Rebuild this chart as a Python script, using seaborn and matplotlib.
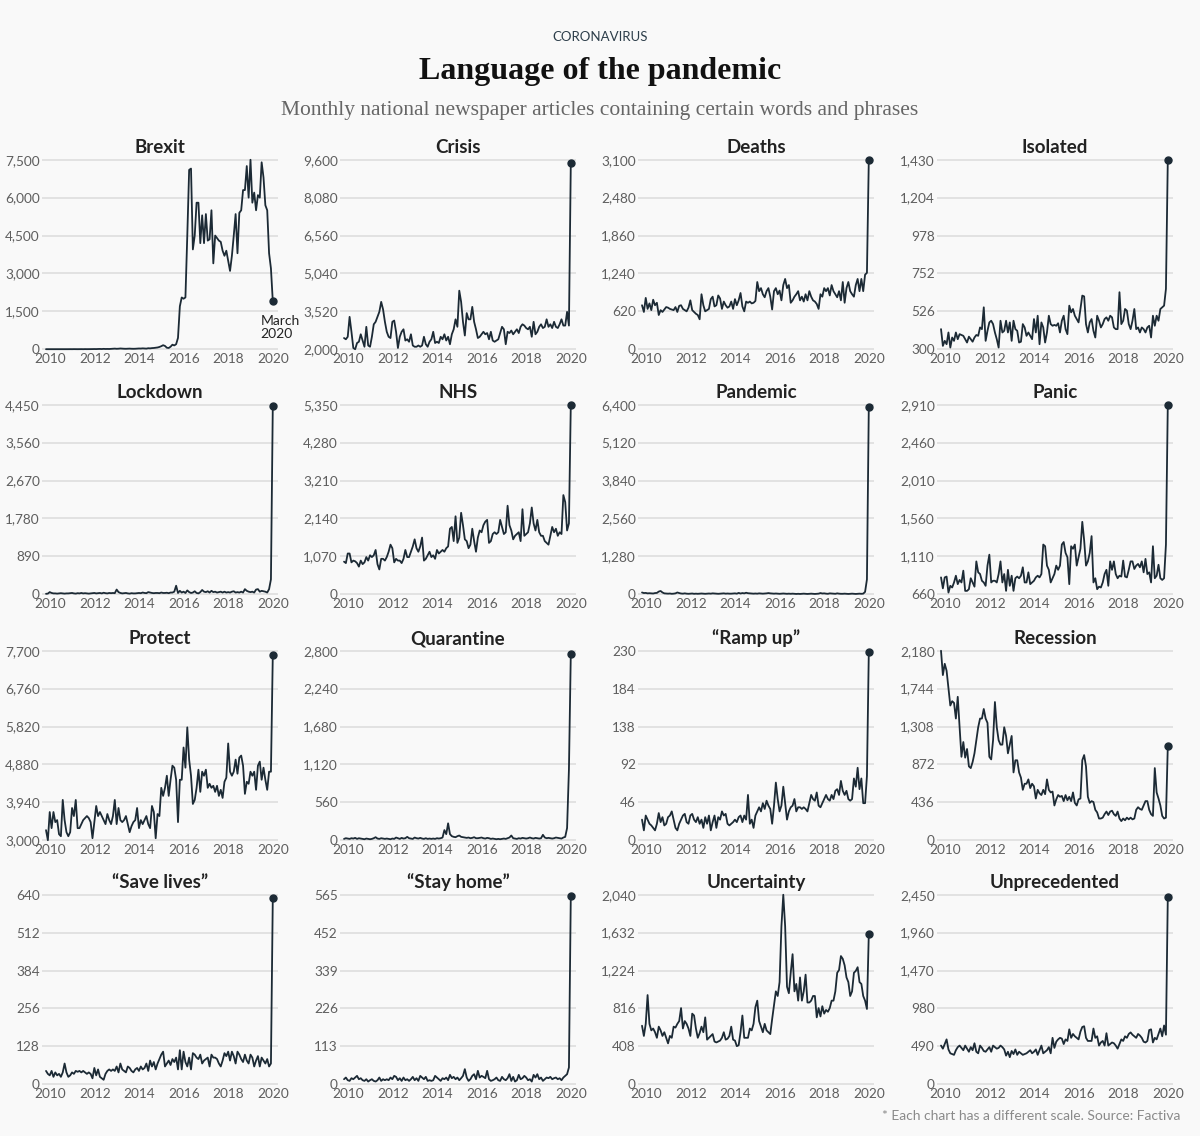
import numpy as np
import pandas as pd
import seaborn as sns
import matplotlib.pyplot as plt
from matplotlib.transforms import ScaledTranslation

# monthly article counts, Jan 2010 - Mar 2020 (one line per year)
brexit = [
    2, 2, 2, 2, 2, 2, 2, 2, 2, 2, 2, 2,
    2, 3, 2, 4, 3, 2, 3, 4, 2, 5, 3, 4,
    5, 6, 8, 6, 10, 12, 8, 15, 10, 12, 10, 15,
    20, 25, 18, 22, 30, 25, 20, 18, 22, 25, 20, 18,
    20, 25, 30, 28, 35, 30, 25, 40, 35, 45, 50, 60,
    70, 90, 120, 160, 130, 60, 50, 100, 180, 150, 200, 450,
    1700, 2050, 2000, 2050, 4500, 7100, 7150, 3950, 4500, 5800, 5800, 4200,
    5300, 4200, 5350, 4300, 4350, 5500, 3400, 4500, 4400, 4300, 4250, 3900,
    3700, 3900, 3500, 3100, 3700, 4500, 5350, 3800, 5400, 5500, 6300, 6300,
    7250, 6000, 7500, 5800, 6200, 5500, 6100, 6000, 7400, 6800, 5700, 5500,
    3800, 3200, 1900,
]
crisis = [
    2450, 2400, 2500, 3300, 2700, 2050, 2000, 2250, 2300, 2600, 2350, 2100,
    2900, 2150, 2100, 2500, 3000, 3100, 3300, 3500, 3900, 3600, 3100, 2700,
    2500, 2450, 3100, 3150, 2700, 2050, 2500, 2700, 2800, 2350, 2400, 2300,
    2600, 2150, 2100, 2100, 2150, 2100, 2150, 2500, 2200, 2100, 2300, 2400,
    2700, 2250, 2300, 2250, 2500, 2400, 2600, 2350, 2500, 2200, 2600, 2800,
    3200, 2900, 4350, 3900, 3100, 2550, 3450, 3200, 3200, 3700, 3100, 2800,
    2450, 2500, 2600, 2700, 2600, 2650, 2400, 2700, 2350, 2300, 2350, 2400,
    2650, 2900, 2800, 2200, 2700, 2650, 2750, 2600, 2700, 2800, 2650, 2900,
    3000, 2950, 2850, 2800, 2900, 2500, 3100, 2600, 2700, 2900, 3000, 2850,
    2900, 3200, 2900, 3000, 2850, 3100, 2900, 2850, 3000, 3200, 2950, 2950,
    3500, 2950, 9450,
]
deaths = [
    720, 610, 840, 660, 750, 640, 810, 720, 760, 560, 640, 610,
    650, 690, 680, 660, 650, 640, 690, 610, 710, 720, 660, 640,
    620, 680, 800, 640, 610, 580, 560, 490, 900, 720, 620, 640,
    660, 820, 860, 700, 720, 880, 830, 660, 780, 720, 680, 700,
    780, 660, 820, 720, 800, 920, 700, 620, 780, 760, 780, 750,
    760, 790, 1100, 950, 1000, 900, 850, 950, 1000, 860, 650, 950,
    1000, 900, 960, 800, 1050, 1150, 1000, 1050, 760, 800, 860, 900,
    950, 800, 860, 780, 900, 800, 950, 860, 800, 780, 740, 660,
    900, 860, 1000, 950, 1000, 880, 1050, 950, 900, 850, 950, 800,
    1100, 760, 1000, 1100, 950, 900, 860, 1050, 1150, 950, 1150, 950,
    1220, 1250, 3100,
]
isolated = [
    420, 320, 350, 330, 400, 310, 370, 350, 400, 360, 390, 385,
    380, 360, 340, 375, 360, 345, 370, 385, 380, 430, 420, 550,
    350, 410, 460, 470, 450, 400, 360, 310, 470, 400, 410, 470,
    400, 460, 350, 470, 420, 410, 340, 345, 450, 430, 380, 400,
    380, 360, 480, 400, 500, 330, 460, 430, 340, 400, 500, 450,
    440, 445, 440, 455, 400, 470, 500, 420, 390, 560, 520, 540,
    500, 480, 460, 540, 620, 615, 450, 400, 460, 480, 410, 370,
    500, 470, 430, 450, 480, 490, 470, 500, 490, 430, 420, 420,
    640, 450, 470, 540, 530, 450, 420, 470, 540, 420, 430, 400,
    430, 420, 400, 430, 440, 370, 500, 440, 500, 470, 540, 550,
    560, 660, 1430,
]
lockdown = [
    10, 15, 50, 30, 20, 20, 15, 20, 25, 20, 15, 20,
    20, 25, 30, 20, 15, 25, 20, 30, 20, 25, 20, 15,
    20, 25, 30, 20, 25, 30, 20, 35, 25, 20, 30, 25,
    30, 25, 110, 50, 30, 20, 25, 30, 20, 15, 25, 20,
    20, 25, 30, 25, 40, 30, 25, 50, 40, 30, 25, 30,
    30, 25, 40, 30, 30, 35, 25, 40, 40, 60, 200, 30,
    80, 40, 60, 30, 90, 50, 30, 40, 70, 30, 20, 50,
    100, 60, 50, 70, 40, 80, 50, 60, 40, 50, 60, 40,
    60, 40, 50, 40, 60, 70, 40, 50, 40, 60, 40, 120,
    80, 60, 50, 60, 40, 110, 120, 60, 80, 70, 60, 40,
    120, 350, 4430,
]
nhs = [
    920, 880, 1150, 1150, 900, 950, 930, 880, 780, 950, 850, 900,
    1050, 950, 1100, 1050, 1100, 1250, 850, 700, 1000, 1000, 950, 1050,
    1200, 1400, 1300, 900, 1000, 950, 950, 880, 1000, 1250, 1050, 1050,
    1200, 1350, 1550, 1300, 1200, 1350, 1600, 950, 1000, 1100, 1200, 1050,
    1100, 1000, 1250, 1150, 1200, 1250, 1200, 1300, 1350, 1850, 1900, 1500,
    2200, 1450, 1600, 2300, 1950, 1550, 1500, 1300, 1400, 1850, 1500, 1200,
    1600, 1800, 1750, 1950, 2050, 2100, 1450, 1500, 1700, 1750, 1700, 1750,
    2100, 1900, 1700, 1750, 2500, 1950, 1800, 1550, 1650, 1700, 1750, 1500,
    2400, 1650, 1700, 1750, 2000, 2450, 2000, 1800, 2100, 1750, 1650, 1650,
    1500, 1450, 1400, 1650, 1900, 1750, 1850, 1650, 1750, 1700, 2800, 2600,
    1800, 2000, 5350,
]
pandemic = [
    60, 40, 45, 30, 35, 30, 25, 40, 45, 90, 110, 60,
    30, 25, 20, 25, 15, 20, 30, 60, 40, 25, 20, 30,
    20, 15, 20, 25, 15, 20, 15, 20, 25, 20, 15, 20,
    25, 20, 30, 25, 20, 15, 20, 25, 30, 20, 25, 20,
    20, 25, 30, 20, 45, 25, 40, 30, 50, 35, 30, 25,
    20, 25, 20, 30, 25, 20, 25, 30, 40, 30, 25, 20,
    25, 20, 15, 20, 25, 20, 15, 20, 15, 20, 15, 10,
    15, 10, 15, 20, 15, 10, 15, 20, 15, 10, 15, 20,
    40, 25, 30, 20, 15, 30, 25, 20, 15, 30, 20, 15,
    15, 20, 15, 10, 15, 20, 15, 10, 15, 20, 15, 20,
    80, 500, 6330,
]
panic = [
    860, 730, 860, 870, 680, 760, 740, 800, 880, 780, 830, 800,
    940, 700, 700, 720, 850, 800, 750, 1050, 920, 900, 820, 800,
    760, 1000, 1130, 800, 820, 820, 800, 900, 1050, 800, 900, 700,
    950, 760, 880, 700, 850, 870, 850, 880, 980, 800, 800, 920,
    780, 800, 820, 860, 880, 860, 900, 1250, 1230, 1000, 950, 800,
    850, 900, 1000, 950, 1000, 1250, 1280, 1150, 1100, 780, 1230, 1200,
    1250, 1000, 1100, 1200, 1520, 1300, 1000, 1050, 1150, 1350, 800, 850,
    720, 750, 740, 800, 900, 950, 760, 1050, 950, 1050, 900, 850,
    880, 870, 1060, 870, 860, 950, 1050, 1050, 960, 1000, 1020, 980,
    1050, 920, 1080, 900, 920, 800, 1230, 850, 880, 1010, 850, 830,
    850, 1250, 2910,
]
protect = [
    3250, 3000, 3700, 3300, 3700, 3450, 3500, 3150, 3100, 4000, 3500, 3200,
    3100, 3200, 3800, 3600, 4000, 3300, 3300, 3400, 3500, 3550, 3600, 3550,
    3450, 3050, 3450, 3850, 3600, 3700, 3600, 3500, 3400, 3650, 3500, 3400,
    3600, 4000, 3400, 3800, 3500, 3450, 3500, 3600, 3400, 3200, 3350, 3450,
    3500, 3800, 3300, 3500, 3400, 3500, 3600, 3400, 3300, 3850, 3700, 3050,
    3650, 3600, 4300, 4100, 4300, 4600, 4100, 4500, 4850, 4800, 4500, 3450,
    4500, 4500, 5300, 4800, 5800, 5000, 4600, 3900, 4000, 4300, 4750, 4200,
    4700, 4600, 4750, 4300, 4400, 4300, 4350, 4200, 4350, 4100, 4250, 4050,
    4450, 4550, 5400, 4700, 4600, 4700, 5000, 4650, 5050, 5100, 4850, 4150,
    4450, 4400, 4700, 4600, 4700, 4250, 4850, 4950, 4500, 4800, 4500, 4250,
    4700, 4700, 7600,
]
quarantine = [
    20, 30, 25, 20, 30, 25, 35, 20, 30, 25, 20, 15,
    25, 20, 15, 20, 30, 45, 25, 20, 30, 25, 20, 25,
    20, 15, 25, 20, 40, 30, 20, 35, 25, 30, 50, 30,
    25, 20, 40, 30, 25, 35, 25, 20, 30, 20, 25, 20,
    25, 20, 30, 25, 30, 40, 150, 90, 250, 90, 60, 50,
    45, 60, 70, 50, 45, 40, 35, 40, 30, 35, 45, 30,
    30, 35, 40, 30, 25, 35, 30, 20, 25, 20, 15, 20,
    15, 20, 25, 20, 30, 40, 70, 30, 25, 20, 30, 25,
    35, 30, 25, 30, 40, 30, 25, 35, 30, 25, 30, 80,
    40, 30, 35, 30, 25, 30, 40, 35, 30, 25, 40, 50,
    180, 1050, 2750,
]
ramp_up = [
    25, 12, 30, 25, 20, 18, 15, 12, 20, 33, 22, 28,
    18, 20, 28, 30, 35, 25, 15, 12, 20, 25, 30, 32,
    22, 20, 30, 32, 25, 22, 28, 20, 25, 15, 28, 20,
    30, 12, 22, 30, 15, 28, 25, 35, 30, 32, 20, 18,
    20, 22, 25, 22, 28, 30, 22, 30, 25, 55, 20, 25,
    15, 30, 35, 40, 35, 45, 38, 48, 42, 38, 20, 42,
    70, 50, 35, 42, 65, 45, 25, 35, 40, 42, 50, 35,
    40, 40, 38, 40, 38, 35, 45, 55, 50, 48, 58, 42,
    40, 45, 50, 55, 50, 48, 55, 50, 60, 62, 55, 72,
    60, 55, 60, 50, 48, 50, 75, 65, 88, 62, 75, 45,
    45, 78, 228,
]
recession = [
    2180, 1900, 2030, 1950, 1750, 1550, 1600, 1580, 1400, 1650, 1300, 960,
    1130, 950, 1050, 850, 830, 900, 1000, 1150, 1300, 1400, 1400, 1510,
    1400, 1350, 960, 930, 1150, 1590, 1300, 1150, 1100, 1100, 1300, 1200,
    1000, 1100, 1200, 780, 920, 920, 780, 720, 580, 650, 650, 700,
    600, 650, 620, 480, 580, 540, 520, 580, 530, 700, 580, 550,
    560, 400, 470, 520, 500, 510, 450, 520, 460, 500, 450, 550,
    430, 400, 470, 480, 920, 980, 850, 500, 430, 450, 440, 350,
    320, 250, 250, 260, 300, 330, 290, 330, 340, 300, 280, 330,
    250, 220, 250, 230, 260, 240, 260, 240, 250, 350, 380, 360,
    350, 400, 450, 450, 350, 300, 280, 830, 550, 480, 400, 280,
    250, 260, 1080,
]
save_lives = [
    45, 35, 30, 45, 25, 40, 30, 35, 25, 40, 70, 40,
    25, 30, 40, 35, 45, 42, 45, 40, 45, 40, 35, 40,
    35, 20, 55, 30, 50, 25, 20, 15, 35, 45, 50, 45,
    50, 45, 60, 40, 70, 50, 45, 40, 60, 55, 45, 40,
    50, 55, 45, 60, 50, 55, 70, 45, 80, 60, 75, 50,
    70, 85, 100, 110, 60, 70, 80, 65, 85, 75, 90, 50,
    115, 50, 110, 75, 60, 90, 50, 105, 100, 90, 85, 100,
    70, 80, 85, 90, 60, 100, 90, 90, 85, 70, 60, 80,
    105, 95, 110, 80, 110, 95, 70, 110, 100, 85, 75, 100,
    80, 70, 100, 90, 60, 80, 95, 60, 90, 80, 70, 85,
    60, 70, 630,
]
stay_home = [
    15, 20, 12, 10, 18, 15, 20, 25, 15, 18, 12, 10,
    15, 8, 12, 15, 10, 8, 12, 20, 10, 15, 12, 15,
    12, 20, 15, 25, 22, 12, 18, 10, 20, 12, 15, 10,
    15, 22, 12, 18, 10, 25, 20, 15, 22, 10, 12, 10,
    12, 25, 20, 15, 10, 18, 15, 20, 12, 28, 18, 22,
    15, 20, 12, 18, 25, 45, 20, 10, 15, 25, 30, 15,
    40, 20, 25, 22, 18, 40, 15, 10, 12, 15, 20, 12,
    10, 22, 15, 12, 18, 30, 10, 22, 8, 12, 28, 15,
    18, 25, 20, 12, 15, 8, 28, 20, 30, 15, 20, 10,
    15, 20, 18, 22, 15, 18, 20, 15, 18, 12, 20, 25,
    30, 50, 562,
]
uncertainty = [
    630, 520, 650, 960, 650, 580, 600, 560, 500, 620, 580, 520,
    560, 500, 440, 520, 500, 620, 610, 650, 680, 820, 600, 680,
    650, 600, 520, 760, 740, 600, 500, 550, 620, 560, 720, 480,
    500, 520, 540, 460, 450, 460, 470, 500, 560, 480, 490, 520,
    620, 480, 470, 410, 420, 560, 740, 500, 500, 500, 600, 580,
    650, 830, 900, 680, 620, 560, 650, 580, 560, 540, 700, 850,
    1000, 950, 1100, 1700, 2040, 1700, 1050, 980, 1200, 1400, 1000, 1080,
    900, 1150, 900, 1000, 1180, 880, 880, 900, 950, 950, 720, 820,
    730, 840, 760, 800, 780, 820, 900, 900, 1000, 1200, 1230, 1380,
    1350, 1280, 1150, 1100, 950, 1000, 1200, 1220, 1260, 1100, 1080, 950,
    900, 810, 1620,
]
unprecedented = [
    500, 460, 520, 580, 450, 400, 390, 380, 440, 480, 500, 470,
    440, 500, 460, 420, 480, 440, 530, 420, 400, 500, 470, 430,
    420, 450, 480, 420, 500, 480, 460, 470, 500, 480, 450, 370,
    420, 350, 430, 390, 450, 380, 420, 400, 380, 390, 400, 420,
    440, 400, 420, 450, 380, 440, 500, 400, 420, 440, 480, 400,
    600, 470, 550, 580, 600, 590, 520, 580, 560, 710, 600, 650,
    620, 600, 580, 680, 740, 750, 600, 560, 560, 560, 720, 600,
    620, 500, 540, 560, 500, 660, 500, 520, 540, 530, 500, 460,
    520, 580, 560, 620, 600, 650, 670, 640, 620, 600, 650, 630,
    600, 550, 540, 560, 700, 710, 540, 600, 580, 650, 720, 620,
    760, 640, 2420,
]

titles = ['Brexit', 'Crisis', 'Deaths', 'Isolated',
          'Lockdown', 'NHS', 'Pandemic', 'Panic',
          'Protect', 'Quarantine', '\u201cRamp up\u201d', 'Recession',
          '\u201cSave lives\u201d', '\u201cStay home\u201d', 'Uncertainty', 'Unprecedented']
series = [brexit, crisis, deaths, isolated,
          lockdown, nhs, pandemic, panic,
          protect, quarantine, ramp_up, recession,
          save_lives, stay_home, uncertainty, unprecedented]
y_bottom = [0, 2000, 0, 300, 0, 0, 0, 660, 3000, 0, 0, 0, 0, 0, 0, 0]
y_top = [7500, 9600, 3100, 1430, 4450, 5350, 6400, 2910,
         7700, 2800, 230, 2180, 640, 565, 2040, 2450]

months = 2010 + np.arange(123) / 12
frames = []
for t, vals in zip(titles, series):
    assert len(vals) == 123, t
    frames.append(pd.DataFrame({'word': t, 'year': months, 'count': vals}))
df = pd.concat(frames, ignore_index=True)

sns.set_theme(style='white')
plt.rcParams['font.family'] = ['Lato', 'DejaVu Sans']

BG = '#f9f9f9'
INK = '#1c2a35'
W, H = 1200, 1136

fig = plt.figure(figsize=(12, 11.36), dpi=100)
fig.patch.set_facecolor(BG)

col_left = [42, 340, 638, 937]
row_top = [159, 404, 650, 894]
ax_w, ax_h = 236, 191
nudge = ScaledTranslation(3 / 72, -1 / 72, fig.dpi_scale_trans)

for i, t in enumerate(titles):
    r, c = divmod(i, 4)
    ax = fig.add_axes([col_left[c] / W, 1 - (row_top[r] + ax_h) / H, ax_w / W, ax_h / H])
    ax.set_facecolor(BG)
    sub = df[df.word == t]
    sns.lineplot(data=sub, x='year', y='count', ax=ax, color=INK, lw=1.3,
                 errorbar=None, clip_on=False, zorder=3)
    ax.plot(sub.year.iloc[-1], sub['count'].iloc[-1], 'o', color=INK, ms=5,
            clip_on=False, zorder=4)

    lo, hi = y_bottom[i], y_top[i]
    ticks = np.linspace(lo, hi, 6)
    pad = (hi - lo) * 0.004
    ax.set_ylim(lo - pad, hi + pad)
    ax.set_yticks(ticks)
    ax.set_yticklabels([f'{int(round(v)):,}' for v in ticks])
    ax.set_xlim(2009.82, 2020.40)
    ax.set_xticks(range(2010, 2021, 2))
    ax.grid(axis='y', color='#dcdcdc', lw=1.1)
    ax.set_axisbelow(True)
    sns.despine(ax=ax, left=True, bottom=True)
    ax.tick_params(axis='y', length=0, labelsize=9.8, labelcolor='#5e5e5e', pad=1.5)
    ax.tick_params(axis='x', length=0, labelsize=9.8, labelcolor='#5e5e5e', pad=1.5)
    for lab in ax.get_xticklabels():
        lab.set_transform(lab.get_transform() + nudge)
    ax.set_xlabel('')
    ax.set_ylabel('')
    ax.annotate(t, (0.5, 1), xycoords='axes fraction', xytext=(0, 4),
                textcoords='offset points', ha='center', va='baseline',
                fontsize=13.5, fontweight='bold', color='#222222')

    if t == 'Brexit':
        ax.annotate('March\n2020', (sub.year.iloc[-1], sub['count'].iloc[-1]),
                    xytext=(-9, -10), textcoords='offset points', ha='left', va='top',
                    fontsize=10, color='#222222', linespacing=1.1)

fig.text(0.5, 1 - 37 / H, 'CORONAVIRUS', ha='center', va='center',
         fontsize=9.5, color='#2d3e4a')
fig.text(0.5, 1 - 72 / H, 'Language of the pandemic', ha='center', va='center',
         family=['Liberation Serif', 'DejaVu Serif'], fontweight='bold',
         fontsize=23, color='#111111')
fig.text(0.5, 1 - 111 / H,
         'Monthly national newspaper articles containing certain words and phrases',
         ha='center', va='center', family=['Liberation Serif', 'DejaVu Serif'],
         fontsize=15.5, color='#666666')
fig.text(1180 / W, 1 - 1116 / H,
         '* Each chart has a different scale. Source: Factiva',
         ha='right', va='center', fontsize=10, color='#8a8a8a')

fig.savefig('out.png', dpi=100, facecolor=BG)
